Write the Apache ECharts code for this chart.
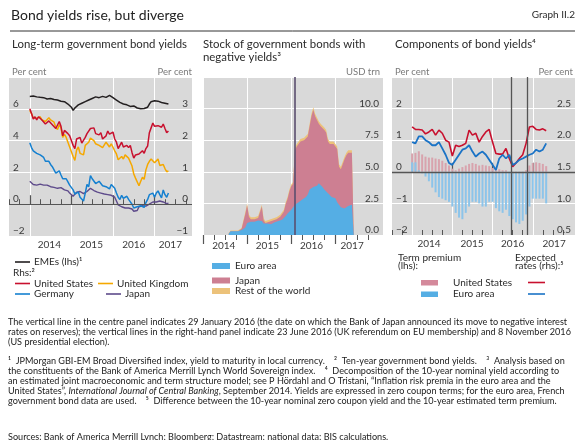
<!DOCTYPE html>
<html><head><meta charset="utf-8">
<script src="https://cdn.jsdelivr.net/npm/echarts@6/dist/echarts.min.js"></script>
<style>html,body{margin:0;padding:0;background:#fff}#c{width:582px;height:440px}</style>
</head><body><div id="c"></div><script>
// ---------- DATA ----------
// Left panel: long-term government bond yields, semi-monthly from Jan 2014
const yieldStart = 2014, yieldStep = 1 / 24;
const emes = [6.78,6.85,6.8,6.72,6.75,6.7,6.72,6.68,6.7,6.65,6.62,6.68,6.65,6.6,6.58,6.55,6.55,6.5,6.48,6.45,6.45,6.38,6.3,6.2,
  6.1,5.9,6.05,6.15,6.25,6.3,6.35,6.4,6.45,6.5,6.55,6.6,6.65,6.7,6.75,6.72,6.7,6.75,6.78,6.7,6.72,6.8,6.85,6.78,
  6.7,6.6,6.55,6.45,6.4,6.35,6.3,6.28,6.25,6.2,6.15,6.12,6.18,6.1,6.05,6.02,6.0,6.0,6.02,6.05,6.1,6.3,6.45,6.48,
  6.5,6.45,6.48,6.42,6.4,6.38,6.35,6.33,6.3];
const unitedStates = [3.0,2.85,2.68,2.75,2.65,2.75,2.75,2.65,2.62,2.52,2.48,2.62,2.58,2.5,2.55,2.38,2.42,2.6,2.45,2.15,2.32,2.35,2.22,2.15,
  2.12,1.85,1.75,2.05,2.0,2.1,1.92,1.9,2.1,2.22,2.22,2.38,2.35,2.4,2.22,2.18,2.18,2.25,2.05,2.02,2.15,2.3,2.2,2.25,
  2.27,2.05,1.95,1.75,1.8,1.95,1.8,1.75,1.85,1.78,1.85,1.62,1.45,1.55,1.52,1.58,1.58,1.68,1.6,1.75,1.83,2.25,2.4,2.55,
  2.45,2.4,2.47,2.45,2.42,2.52,2.38,2.25,2.3];
const unitedKingdom = [2.95,2.85,2.72,2.75,2.7,2.72,2.75,2.65,2.68,2.6,2.62,2.72,2.65,2.6,2.58,2.42,2.35,2.5,2.4,2.1,2.2,2.1,1.95,1.8,
  1.75,1.5,1.38,1.7,1.8,1.6,1.58,1.55,1.85,1.9,1.95,2.08,2.05,2.0,1.9,1.95,1.85,1.9,1.78,1.78,1.95,1.95,1.8,1.9,
  1.95,1.68,1.58,1.4,1.4,1.5,1.42,1.55,1.58,1.45,1.4,1.2,0.95,0.82,0.8,0.58,0.72,0.85,0.78,1.08,1.25,1.35,1.42,1.45,
  1.3,1.35,1.42,1.22,1.2,1.25,1.12,1.02,1.05];
const germany = [1.93,1.78,1.68,1.68,1.6,1.58,1.55,1.5,1.47,1.35,1.4,1.35,1.25,1.18,1.12,0.98,0.92,1.05,0.92,0.8,0.85,0.8,0.7,0.6,
  0.54,0.45,0.32,0.35,0.38,0.22,0.18,0.1,0.35,0.62,0.55,0.9,0.8,0.82,0.65,0.62,0.72,0.7,0.58,0.55,0.55,0.55,0.48,0.62,
  0.6,0.5,0.35,0.22,0.15,0.28,0.18,0.15,0.25,0.15,0.12,0.0,-0.12,-0.1,-0.08,-0.05,-0.05,0.0,-0.1,0.05,0.15,0.3,0.28,0.35,
  0.22,0.35,0.42,0.3,0.2,0.45,0.3,0.22,0.35];
const japan = [0.72,0.68,0.62,0.6,0.6,0.62,0.63,0.6,0.6,0.58,0.6,0.58,0.55,0.54,0.53,0.5,0.5,0.53,0.52,0.47,0.45,0.48,0.42,0.35,
  0.32,0.25,0.22,0.38,0.35,0.4,0.4,0.33,0.36,0.4,0.42,0.5,0.47,0.43,0.42,0.38,0.38,0.35,0.33,0.32,0.3,0.3,0.3,0.28,
  0.27,0.22,0.1,-0.02,-0.05,-0.08,-0.05,-0.12,-0.1,-0.12,-0.12,-0.15,-0.22,-0.28,-0.2,-0.08,-0.06,-0.05,-0.08,-0.06,-0.05,0.0,0.02,0.07,
  0.05,0.07,0.08,0.1,0.08,0.07,0.06,0.02,0.03];

// Centre panel: stock of negative-yield bonds (USD trn), semi-monthly from mid-Aug 2014
const stockStart = 2014 + 14 / 24, stockStep = 1 / 24;
const euroArea = [0.1,0.3,0.35,0.3,0.35,0.3,0.35,0.4,0.45,0.6,0.95,1.0,1.05,1.0,1.05,1.1,1.15,1.2,1.1,0.9,0.85,0.9,0.9,0.85,
  0.95,1.0,1.05,1.1,1.15,1.2,1.35,1.5,1.7,1.85,2.0,2.2,2.4,2.5,2.6,2.7,2.8,2.9,3.0,3.2,3.6,3.7,3.8,3.7,3.9,4.1,
  4.0,3.8,3.6,3.5,3.3,3.2,3.0,3.1,2.9,2.6,2.4,2.2,2.15,2.1,2.2,2.3,2.3,2.4,2.55];
const japanStock = [0,0,0,0,0,0,0.05,0.1,0.1,1.05,1.4,0.45,0.2,0.15,0.2,0.25,0.2,0.25,1.15,0.25,0.1,0.15,0.15,0.1,
  0.2,0.15,0.2,0.25,0.3,0.45,0.5,0.95,1.15,1.6,1.85,1.85,4.3,4.5,4.6,4.7,4.5,4.6,4.6,4.6,5.0,5.7,6.1,5.7,5.2,4.7,
  4.6,4.9,4.7,4.6,4.1,4.0,4.1,4.1,4.2,4.2,3.0,3.0,3.45,3.9,4.1,4.2,4.3,4.1,3.85];
const restOfWorld = [0.05,0.05,0.05,0.05,0.05,0.05,0.05,0.05,0.1,0.15,0.15,0.15,0.15,0.15,0.15,0.15,0.15,0.15,0.15,0.15,0.15,0.15,0.15,0.15,
  0.15,0.15,0.15,0.15,0.15,0.15,0.15,0.15,0.15,0.15,0.15,0.15,0.2,0.2,0.2,0.2,0.2,0.2,0.2,0.2,0.2,0.2,0.2,0.2,0.2,0.2,
  0.2,0.2,0.2,0.2,0.2,0.2,0.2,0.2,0.2,0.2,0.2,0.2,0.2,0.2,0.2,0.2,0.2,0.2,0.2];

// Right panel: monthly from Jan 2014
const compStart = 2014, compStep = 1 / 12;
const termPremiumUS = [0.58,0.6,0.65,0.55,0.48,0.45,0.45,0.42,0.4,0.35,0.28,0.2,0.1,0.05,0.1,0.15,0.2,0.25,0.28,0.25,0.2,0.22,0.2,0.18,
  0.12,0.05,0.08,0.05,0.05,0.0,-0.05,-0.05,-0.05,-0.08,0.05,0.2,0.28,0.3,0.28,0.25,0.18];
const termPremiumEA = [0.3,0.3,0.05,-0.05,-0.15,-0.3,-0.5,-0.65,-0.8,-0.85,-0.9,-0.95,-1.1,-1.3,-1.45,-1.5,-1.3,-1.1,-0.95,-0.95,-1.0,-1.1,-1.1,-0.95,
  -0.95,-1.15,-1.25,-1.3,-1.2,-1.4,-1.5,-1.6,-1.65,-1.55,-1.35,-1.1,-0.85,-0.85,-0.85,-0.85,-1.0];
const expectedUS = [2.21,2.17,2.17,2.16,2.1,2.13,2.17,2.08,2.16,2.11,2.0,1.97,1.75,1.92,1.9,1.92,1.95,2.16,2.08,2.11,1.97,2.06,2.13,2.17,
  1.97,1.79,1.78,1.78,1.87,1.71,1.58,1.64,1.71,1.77,1.95,2.21,2.22,2.17,2.16,2.18,2.15];
const expectedEA = [1.97,1.95,2.06,2.06,2.0,1.97,1.92,1.92,1.97,1.87,1.77,1.64,1.61,1.69,1.77,1.85,1.87,1.92,1.82,1.74,1.79,1.82,1.77,1.69,
  1.61,1.53,1.71,1.77,1.71,1.77,1.61,1.64,1.69,1.71,1.74,1.77,1.79,1.85,1.82,1.85,1.95];

// Ticks, labels, events
const yearTicks = [2014, 2015, 2016, 2017];
const leftLabelPos = [2014.47, 2015.48, 2016.5, 2017.38];
const midLabelPos = [2014.47, 2015.46, 2016.46, 2017.38];
const rightLabelPos = [2014.42, 2015.49, 2016.5, 2017.53];
const bojDate = [2016.077];
const rightEvents = [2016.475, 2016.855];

// ---------- HELPERS ----------
const pairs = (arr, start, step) => arr.map((v, i) => [start + i * step, v]);
// cumulative layers for the stacked areas
const layerEA = euroArea;
const layerEAJP = euroArea.map((v, i) => v + japanStock[i]);
const layerAll = layerEAJP.map((v, i) => v + restOfWorld[i]);
const quarterTicks = [];
for (let y = 2013; y <= 2017; y++) [0.25, 0.5, 0.75].forEach(q => quarterTicks.push(y + q));
const GRAY = '#d9d9d9', FONT = 'Lato', TXT = '#2b2b2b', LBL = '#3a3a3a';
const minus = v => String(v).replace('-', '\u2212');

function xAxesFor(grid, min, max, labels, inside) {
  return [
    { type: 'value', gridIndex: grid, min, max, position: 'bottom',
      axisLine: { show: false },
      axisTick: { show: true, inside, length: 9, customValues: yearTicks, lineStyle: { color: '#555', width: 1.2 } },
      splitLine: { show: true, lineStyle: { color: '#fff', width: 1 } },
      axisLabel: { customValues: labels, formatter: v => String(Math.floor(v)), color: LBL,
                   fontFamily: FONT, fontSize: 10, margin: inside ? 4 : 6 } },
    { type: 'value', gridIndex: grid, min, max, position: 'bottom',
      axisLine: { show: false }, splitLine: { show: false }, axisLabel: { show: false },
      axisTick: { show: true, inside, length: 5, customValues: quarterTicks, lineStyle: { color: '#555', width: 1 } } }
  ];
}
function yAx(grid, pos, min, max, interval, fmt, split) {
  return { type: 'value', gridIndex: grid, position: pos, min, max, interval,
    axisLine: { show: false }, axisTick: { show: false },
    splitLine: { show: split, lineStyle: { color: '#fff', width: 1 } },
    axisLabel: { inside: true, margin: 4, verticalAlign: 'bottom', showMaxLabel: false,
                 color: LBL, fontFamily: FONT, fontSize: 10, formatter: fmt } };
}
const noMark = { symbol: 'none', silent: true, animation: false, label: { show: false } };
function lineS(name, data, xi, yi, color, w) {
  return { name, type: 'line', xAxisIndex: xi, yAxisIndex: yi, data, showSymbol: false, symbol: 'none',
    lineStyle: { color, width: w }, itemStyle: { color }, animation: false, z: 3 };
}
function areaS(name, data, color) {
  return { name, type: 'line', xAxisIndex: 2, yAxisIndex: 2, data, showSymbol: false, symbol: 'none',
    lineStyle: { width: 0 }, areaStyle: { color, opacity: 1, origin: 'start' }, itemStyle: { color }, animation: false };
}

// ---------- GRAPHICS (titles, legends, notes) ----------
function T(x, y, text, opts) {
  return Object.assign({ type: 'text', x, y, silent: true,
    style: Object.assign({ text, fill: TXT, font: `10px ${FONT}`, verticalAlign: 'middle' }, opts || {}) });
}
const g = [];
g.push(T(11, 15, 'Bond yields rise, but diverge', { font: `14px ${FONT}`, fill: '#222' }));
g.push(T(575, 15, 'Graph II.2', { font: `10px ${FONT}`, align: 'right' }));
g.push({ type: 'line', silent: true, shape: { x1: 10, y1: 31, x2: 575, y2: 31 }, style: { stroke: '#333', lineWidth: 1 } });
g.push(T(12, 44, 'Long-term government bond yields', { font: `11.4px ${FONT}` }));
g.push(T(203, 44, 'Stock of government bonds with', { font: `11.4px ${FONT}` }));
g.push(T(203, 57, 'negative yields\u00b3', { font: `11.4px ${FONT}` }));
g.push(T(395, 44, 'Components of bond yields\u2074', { font: `11.4px ${FONT}` }));
const unitOpt = { font: `9.5px ${FONT}`, fill: '#7a7a7a' };
g.push(T(12, 72, 'Per cent', unitOpt));
g.push(T(192, 72, 'Per cent', Object.assign({ align: 'right' }, unitOpt)));
g.push(T(380, 72, 'USD trn', Object.assign({ align: 'right' }, unitOpt)));
g.push(T(395, 72, 'Per cent', unitOpt));
g.push(T(573, 72, 'Per cent', Object.assign({ align: 'right' }, unitOpt)));

const COL = { emes: '#231f20', us: '#c8102e', uk: '#f5a800', de: '#1580d0', jp: '#5e4b8b',
  ea: '#55aee4', jpa: '#cd7f92', row: '#ecc27a', tpUS: '#d8a3ad', tpEA: '#8cc4ea', erUS: '#c8102e', erEA: '#1a73c6' };
function legLine(x1, x2, y, color) {
  return { type: 'line', silent: true, shape: { x1, y1: y, x2, y2: y }, style: { stroke: color, lineWidth: 1.6 } };
}
function legBox(x, y, w, h, color) {
  return { type: 'rect', silent: true, shape: { x, y, width: w, height: h }, style: { fill: color } };
}
g.push(legLine(15, 30, 262, COL.emes), T(34, 262, 'EMEs (lhs)\u00b9'));
g.push(T(13, 273, 'Rhs:\u00b2'));
g.push(legLine(15, 30, 283.5, COL.us), T(34, 283.5, 'United States'));
g.push(legLine(98, 113, 283.5, COL.uk), T(117, 283.5, 'United Kingdom'));
g.push(legLine(15, 30, 294, COL.de), T(34, 294, 'Germany'));
g.push(legLine(106, 121, 294, COL.jp), T(125, 294, 'Japan'));

g.push(legBox(212, 263, 18, 6, COL.ea), T(235, 266, 'Euro area'));
g.push(legBox(212, 277.5, 18, 6, COL.jpa), T(235, 280.5, 'Japan'));
g.push(legBox(212, 288, 18, 6, COL.row), T(235, 291, 'Rest of the world'));

g.push(T(398, 258, 'Term premium'), T(398, 266, '(lhs):'));
g.push(T(515, 258, 'Expected'), T(515, 266, 'rates (rhs):\u2075'));
g.push(legBox(421, 280, 17, 5.5, '#d4899b'), T(453, 282.5, 'United States'), legLine(528, 545, 282.5, COL.erUS));
g.push(legBox(421, 291.5, 17, 5.5, COL.ea), T(453, 294, 'Euro area'), legLine(528, 545, 294, COL.erEA));

const noteOpt = { font: `9.1px ${FONT}`, fill: '#222', rich: { i: { fontStyle: 'italic', fontSize: 9.1, fontFamily: FONT } } };
const notes = [
  [322, 'The vertical line in the centre panel indicates 29 January 2016 (the date on which the Bank of Japan announced its move to negative interest'],
  [332, 'rates on reserves); the vertical lines in the right-hand panel indicate 23 June 2016 (UK referendum on EU membership) and 8 November 2016'],
  [342, '(US presidential election).'],
  [361, '\u00b9  JPMorgan GBI-EM Broad Diversified index, yield to maturity in local currency.    \u00b2  Ten-year government bond yields.    \u00b3  Analysis based on'],
  [371, 'the constituents of the Bank of America Merrill Lynch World Sovereign index.    \u2074  Decomposition of the 10-year nominal yield according to'],
  [381, 'an estimated joint macroeconomic and term structure model; see P H\u00f6rdahl and O Tristani, \u201cInflation risk premia in the euro area and the'],
  [391, 'United States\u201d, {i|International Journal of Central Banking}, September 2014. Yields are expressed in zero coupon terms; for the euro area, French'],
  [401, 'government bond data are used.    \u2075  Difference between the 10-year nominal zero coupon yield and the 10-year estimated term premium.'],
  [437, 'Sources: Bank of America Merrill Lynch; Bloomberg; Datastream; national data; BIS calculations.']
];
notes.forEach(([y, t]) => g.push(T(8, y, t, noteOpt)));

// ---------- CHART ----------
const chart = echarts.init(document.getElementById('c'), null, { renderer: 'canvas' });
const xAxes = [].concat(
  xAxesFor(0, 2013.5, 2017.9, leftLabelPos, true),
  xAxesFor(1, 2014, 2018.08, midLabelPos, false),
  xAxesFor(2, 2013.5, 2018.05, rightLabelPos, true)
);
const yAxes = [
  yAx(0, 'left', -2, 8, 2, minus, true),
  yAx(0, 'right', -1, 4, 1, minus, false),
  yAx(1, 'right', 0, 12.5, 2.5, v => v.toFixed(1), true),
  yAx(2, 'left', -2, 3, 1, minus, true),
  yAx(2, 'right', 0.5, 3, 0.5, v => v.toFixed(1), false)
];
const series = [
  lineS('Japan', pairs(japan, yieldStart, yieldStep), 0, 1, COL.jp, 1.4),
  lineS('Germany', pairs(germany, yieldStart, yieldStep), 0, 1, COL.de, 1.5),
  lineS('United Kingdom', pairs(unitedKingdom, yieldStart, yieldStep), 0, 1, COL.uk, 1.5),
  lineS('United States', pairs(unitedStates, yieldStart, yieldStep), 0, 1, COL.us, 1.5),
  Object.assign(lineS('EMEs', pairs(emes, yieldStart, yieldStep), 0, 0, COL.emes, 1.5), {
    markLine: Object.assign({ data: [{ yAxis: 0 }], lineStyle: { color: '#555', width: 1.2, type: 'solid' } }, noMark) }),
  areaS('Rest of the world', pairs(layerAll, stockStart, stockStep), COL.row),
  areaS('Japan stock', pairs(layerEAJP, stockStart, stockStep), COL.jpa),
  Object.assign(areaS('Euro area', pairs(layerEA, stockStart, stockStep), COL.ea), {
    markLine: Object.assign({ data: bojDate.map(v => ({ xAxis: v })), lineStyle: { color: '#5a4e6e', width: 1.6, type: 'solid' } }, noMark) }),
  { name: 'TP US', type: 'bar', xAxisIndex: 4, yAxisIndex: 3, data: pairs(termPremiumUS, compStart, compStep),
    barWidth: 2, itemStyle: { color: COL.tpUS }, animation: false },
  { name: 'TP EA', type: 'bar', xAxisIndex: 4, yAxisIndex: 3, data: pairs(termPremiumEA, compStart, compStep),
    barWidth: 2, barGap: '-100%', itemStyle: { color: COL.tpEA }, animation: false,
    markLine: Object.assign({ data: [{ yAxis: 0 }].concat(rightEvents.map(v => ({ xAxis: v }))),
      lineStyle: { color: '#555', width: 1.3, type: 'solid' } }, noMark) },
  lineS('ER US', pairs(expectedUS, compStart, compStep), 4, 4, COL.erUS, 1.6),
  lineS('ER EA', pairs(expectedEA, compStart, compStep), 4, 4, COL.erEA, 1.8)
];
chart.setOption({
  animation: false,
  backgroundColor: '#fff',
  textStyle: { fontFamily: FONT },
  grid: [
    { left: 9, top: 77, width: 183, height: 159, show: true, backgroundColor: GRAY, borderWidth: 0 },
    { left: 203, top: 77, width: 180, height: 158, show: true, backgroundColor: GRAY, borderWidth: 0 },
    { left: 392, top: 77, width: 183, height: 158, show: true, backgroundColor: GRAY, borderWidth: 0 }
  ],
  xAxis: xAxes, yAxis: yAxes, series, graphic: g
});
</script></body></html>
